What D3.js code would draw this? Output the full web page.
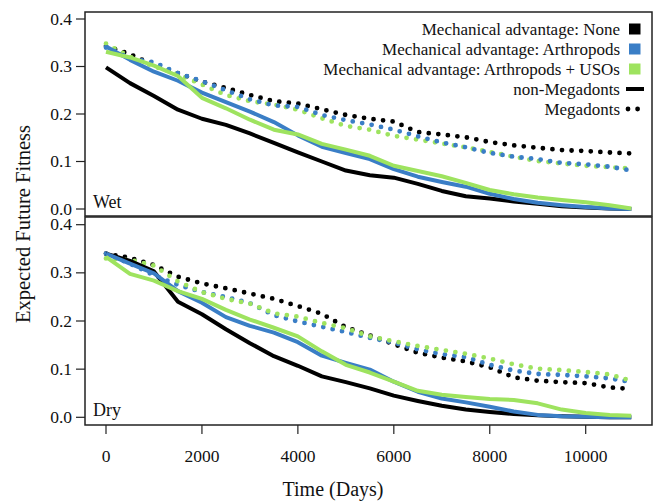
<!DOCTYPE html>
<html>
<head>
<meta charset="utf-8">
<style>
  body { margin: 0; background: #fff; }
</style>
</head>
<body>
<div id="container"></div>
<script src="https://cdn.jsdelivr.net/npm/d3@7"></script>
<script>

// sample days shared by every curve
const days = [0, 500, 1000, 1500, 2000, 2500, 3000, 3500, 4000, 4500, 5000, 5500,
              6000, 6500, 7000, 7500, 8000, 8500, 9000, 9500, 10000, 10500, 10950];

// Wet panel
const wetNoneSolid  = [0.298, 0.265, 0.238, 0.209, 0.190, 0.177, 0.159, 0.139, 0.119, 0.100, 0.081, 0.071,
                       0.066, 0.053, 0.038, 0.027, 0.022, 0.016, 0.011, 0.006, 0.003, 0.001, 0.000];
const wetArthSolid  = [0.342, 0.314, 0.289, 0.270, 0.245, 0.225, 0.205, 0.183, 0.155, 0.131, 0.118, 0.105,
                       0.084, 0.068, 0.057, 0.047, 0.032, 0.021, 0.013, 0.008, 0.004, 0.001, 0.000];
const wetUsoSolid   = [0.331, 0.319, 0.302, 0.280, 0.234, 0.212, 0.188, 0.167, 0.157, 0.137, 0.125, 0.112,
                       0.091, 0.080, 0.069, 0.055, 0.040, 0.031, 0.024, 0.019, 0.014, 0.008, 0.001];
const wetNoneDot    = [0.343, 0.326, 0.303, 0.286, 0.268, 0.255, 0.240, 0.227, 0.222, 0.210, 0.198, 0.190,
                       0.184, 0.162, 0.157, 0.151, 0.141, 0.134, 0.129, 0.124, 0.122, 0.119, 0.117];
const wetArthDot    = [0.340, 0.317, 0.309, 0.286, 0.269, 0.250, 0.231, 0.218, 0.215, 0.198, 0.187, 0.178,
                       0.167, 0.153, 0.140, 0.130, 0.118, 0.110, 0.105, 0.097, 0.094, 0.089, 0.081];
const wetUsoDot     = [0.348, 0.320, 0.300, 0.284, 0.262, 0.240, 0.227, 0.220, 0.209, 0.191, 0.175, 0.167,
                       0.154, 0.146, 0.138, 0.130, 0.120, 0.110, 0.101, 0.096, 0.091, 0.088, 0.085];

// Dry panel
const dryNoneSolid  = [0.340, 0.325, 0.303, 0.240, 0.214, 0.183, 0.154, 0.127, 0.107, 0.085, 0.073, 0.060,
                       0.045, 0.034, 0.024, 0.016, 0.011, 0.007, 0.004, 0.002, 0.001, 0.000, 0.000];
const dryArthSolid  = [0.340, 0.319, 0.299, 0.262, 0.238, 0.208, 0.190, 0.176, 0.156, 0.128, 0.113, 0.099,
                       0.074, 0.053, 0.039, 0.031, 0.022, 0.012, 0.005, 0.002, 0.001, 0.000, 0.000];
const dryUsoSolid   = [0.333, 0.298, 0.284, 0.262, 0.246, 0.223, 0.203, 0.186, 0.168, 0.137, 0.109, 0.093,
                       0.074, 0.055, 0.047, 0.042, 0.038, 0.036, 0.029, 0.016, 0.009, 0.005, 0.003];
const dryNoneDot    = [0.340, 0.331, 0.316, 0.292, 0.278, 0.268, 0.257, 0.246, 0.231, 0.215, 0.187, 0.170,
                       0.152, 0.134, 0.124, 0.116, 0.104, 0.083, 0.076, 0.073, 0.071, 0.062, 0.059];
const dryArthDot    = [0.340, 0.319, 0.295, 0.275, 0.260, 0.250, 0.237, 0.212, 0.199, 0.188, 0.177, 0.165,
                       0.155, 0.141, 0.131, 0.125, 0.109, 0.097, 0.090, 0.088, 0.085, 0.081, 0.073];
const dryUsoDot     = [0.330, 0.327, 0.315, 0.282, 0.260, 0.246, 0.236, 0.216, 0.209, 0.196, 0.185, 0.168,
                       0.158, 0.148, 0.140, 0.132, 0.122, 0.110, 0.101, 0.098, 0.094, 0.089, 0.076];

const xTicks = [0, 2000, 4000, 6000, 8000, 10000];
const yTicks = [0, 0.1, 0.2, 0.3, 0.4];

const legendLabels = ["Mechanical advantage: None", "Mechanical advantage: Arthropods",
                      "Mechanical advantage: Arthropods + USOs", "non-Megadonts", "Megadonts"];

const colors = { none: "#000000", arth: "#3a7ec6", uso: "#9ee35f" };

const width = 654, height = 504;
const boxLeft = 85, boxRight = 652;
const serif = "'Liberation Serif', 'DejaVu Serif', serif";

const svg = d3.create("svg").attr("width", width).attr("height", height)
  .attr("font-family", serif);

const x = d3.scaleLinear().domain([0, 10000]).range([106, 585.7]);

const panels = [
  { name: "Wet", top: 12, bottom: 216, y: d3.scaleLinear().domain([0, 0.4]).range([209, 19]),
    series: [
      { v: wetNoneDot, c: colors.none, dot: true }, { v: wetUsoDot, c: colors.uso, dot: true },
      { v: wetArthDot, c: colors.arth, dot: true },
      { v: wetNoneSolid, c: colors.none }, { v: wetArthSolid, c: colors.arth }, { v: wetUsoSolid, c: colors.uso }
    ] },
  { name: "Dry", top: 217, bottom: 425, y: d3.scaleLinear().domain([0, 0.4]).range([417.3, 224.7]),
    series: [
      { v: dryNoneDot, c: colors.none, dot: true }, { v: dryArthDot, c: colors.arth, dot: true },
      { v: dryUsoDot, c: colors.uso, dot: true },
      { v: dryNoneSolid, c: colors.none }, { v: dryArthSolid, c: colors.arth }, { v: dryUsoSolid, c: colors.uso }
    ] }
];

panels.forEach(p => {
  const g = svg.append("g");

  const line = d3.line().x((d, i) => x(days[i])).y(d => p.y(d));

  p.series.forEach(s => {
    g.append("path")
      .attr("d", line(s.v))
      .attr("fill", "none")
      .attr("stroke", s.c)
      .attr("stroke-width", s.dot ? 4.8 : 4)
      .attr("stroke-linecap", s.dot ? "round" : "butt")
      .attr("stroke-linejoin", "round")
      .attr("stroke-dasharray", s.dot ? "0 9.6" : null);
  });

  // frame
  g.append("rect")
    .attr("x", boxLeft).attr("y", p.top)
    .attr("width", boxRight - boxLeft).attr("height", p.bottom - p.top)
    .attr("fill", "none").attr("stroke", "#222").attr("stroke-width", 1.5);

  // y axis
  const ya = g.append("g");
  ya.selectAll("line").data(yTicks).enter().append("line")
    .attr("x1", boxLeft - 9).attr("x2", boxLeft)
    .attr("y1", d => p.y(d)).attr("y2", d => p.y(d))
    .attr("stroke", "#222").attr("stroke-width", 1.2);
  ya.selectAll("text").data(yTicks).enter().append("text")
    .attr("x", boxLeft - 13).attr("y", d => p.y(d) + 5.5)
    .attr("text-anchor", "end").attr("font-size", 17.5).attr("fill", "#111")
    .text(d => d3.format(".1f")(d));

  g.append("text").attr("x", 93).attr("y", p.y(0) - 1)
    .attr("font-size", 18).attr("fill", "#111").text(p.name);
});

// x axis on bottom panel
const xa = svg.append("g");
xa.selectAll("line").data(xTicks).enter().append("line")
  .attr("x1", d => x(d)).attr("x2", d => x(d))
  .attr("y1", 425).attr("y2", 434)
  .attr("stroke", "#222").attr("stroke-width", 1.2);
xa.selectAll("text").data(xTicks).enter().append("text")
  .attr("x", d => x(d)).attr("y", 462)
  .attr("text-anchor", "middle").attr("font-size", 17.5).attr("fill", "#111")
  .text(d => d);

svg.append("text").attr("x", 333).attr("y", 496)
  .attr("text-anchor", "middle").attr("font-size", 20).attr("fill", "#111").text("Time (Days)");

svg.append("text")
  .attr("transform", "translate(30,224) rotate(-90)")
  .attr("text-anchor", "middle").attr("font-size", 20.5).attr("fill", "#111").text("Expected Future Fitness");

// legend
const leg = svg.append("g");
const legY = d3.scalePoint().domain(legendLabels).range([29, 109]);
leg.selectAll("text").data(legendLabels).enter().append("text")
  .attr("x", 620).attr("y", d => legY(d) + 5.5)
  .attr("text-anchor", "end").attr("font-size", 17).attr("fill", "#111")
  .text(d => d);
const swatch = [colors.none, colors.arth, colors.uso];
leg.selectAll("rect").data(swatch).enter().append("rect")
  .attr("x", 629).attr("y", (d, i) => legY(legendLabels[i]) - 5.5)
  .attr("width", 11.5).attr("height", 11).attr("fill", d => d);
leg.append("line")
  .attr("x1", 626).attr("x2", 644)
  .attr("y1", legY(legendLabels[3])).attr("y2", legY(legendLabels[3]))
  .attr("stroke", "#000").attr("stroke-width", 4);
leg.append("line")
  .attr("x1", 628).attr("x2", 641)
  .attr("y1", legY(legendLabels[4])).attr("y2", legY(legendLabels[4]))
  .attr("stroke", "#000").attr("stroke-width", 4.8)
  .attr("stroke-linecap", "round").attr("stroke-dasharray", "0 9.6");

document.getElementById("container").append(svg.node());
</script>
</body>
</html>
